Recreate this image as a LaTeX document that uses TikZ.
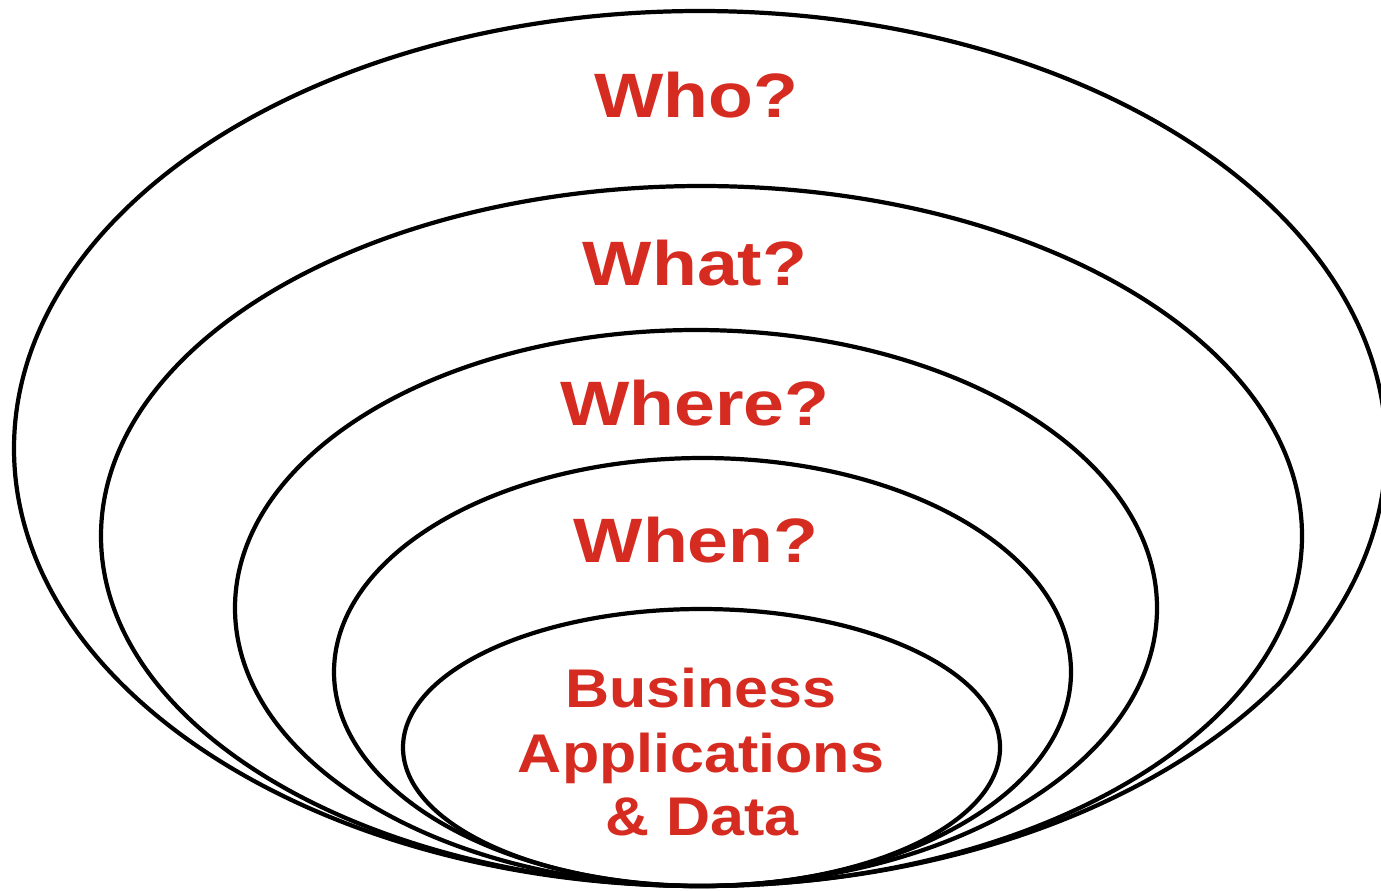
\documentclass[tikz,border=0pt]{standalone}
\usepackage{fontspec}
\setmainfont{Liberation Sans}
\newfontfamily\qfont{Liberation Sans}[FakeStretch=1.17]
\newfontfamily\cfont{Liberation Sans}[FakeStretch=1.12]
\definecolor{qred}{RGB}{213,43,32}
\begin{document}
\begin{tikzpicture}[x=0.02cm, y=-0.02cm, ring/.style={draw, line width=2.4pt},
    question/.style={anchor=base, text=qred, inner sep=0pt, font=\qfont\bfseries\fontsize{35.7}{40}\selectfont},
    core/.style={anchor=base, text=qred, inner sep=0pt, font=\cfont\bfseries\fontsize{31}{36}\selectfont}]
    \useasboundingbox (0,0) rectangle (1381,890);

    % Define rings
    \draw[ring] (700,448.5) ellipse [x radius=686, y radius=437.5];
    \draw[ring] (701.5,536) ellipse [x radius=600.5, y radius=350];
    \draw[ring] (696,608) ellipse [x radius=461, y radius=278];
    \draw[ring] (702.5,672) ellipse [x radius=368.5, y radius=214];
    \draw[ring] (701.5,747.5) ellipse [x radius=298.5, y radius=138.5];

    % Labels
    \node[question] (who) at (696,117) {Who?};
    \node[question] (what) at (695,285) {What?};
    \node[question] (where) at (695,425) {Where?};
    \node[question] (when) at (696,562) {When?};
    \node[core] (business) at (701,707) {Business};
    \node[core] (apps) at (701,772) {Applications};
    \node[core] (data) at (702,835) {\& Data};

\end{tikzpicture}
\end{document}
